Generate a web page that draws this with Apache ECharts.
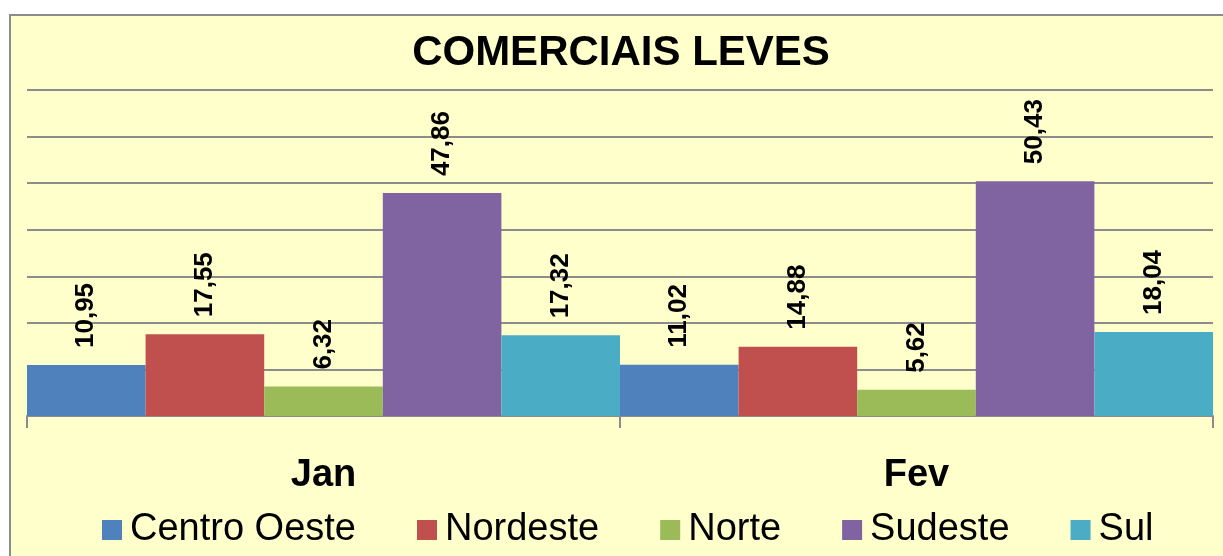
<!DOCTYPE html>
<html>
<head>
<meta charset="utf-8">
<script src="https://cdn.jsdelivr.net/npm/echarts@6/dist/echarts.min.js"></script>
<style>
html, body { margin: 0; padding: 0; background: #fff; }
#container { width: 1223px; height: 556px; }
</style>
</head>
<body>
<div id="container"></div>
<script>
let dom = document.getElementById("container");
let myChart = echarts.init(dom);

let categories = ['Jan', 'Fev'];
let regions = ['Centro Oeste', 'Nordeste', 'Norte', 'Sudeste', 'Sul'];
let centroOeste = [10.95, 11.02];
let nordeste = [17.55, 14.88];
let norte = [6.32, 5.62];
let sudeste = [47.86, 50.43];
let sul = [17.32, 18.04];
let colors = ['#4F81BD', '#C0504D', '#9BBB59', '#8064A2', '#4BACC6'];

let seriesData = [centroOeste, nordeste, norte, sudeste, sul];
let font = 'Liberation Sans, Arial, sans-serif';

let series = regions.map((name, i) => ({
    name: name,
    type: 'bar',
    data: seriesData[i],
    barGap: '0%',
    barCategoryGap: '0%',
    itemStyle: { color: colors[i] },
    label: {
        show: true,
        position: 'top',
        rotate: 90,
        align: 'left',
        verticalAlign: 'middle',
        distance: 17,
        fontSize: 26,
        fontWeight: 'bold',
        fontFamily: font,
        color: '#000',
        formatter: function (p) {
            return p.value.toFixed(2).replace('.', ',');
        }
    }
}));

let option = {
    backgroundColor: '#fff',
    animation: false,
    graphic: [{
        type: 'rect',
        left: 9,
        top: 14,
        z: -10,
        shape: { width: 1240, height: 560 },
        style: { fill: '#FFFFCC', stroke: '#8C8C8C', lineWidth: 2 }
    }],
    title: {
        text: 'COMERCIAIS LEVES',
        left: 616,
        textAlign: 'center',
        top: 27,
        textStyle: { fontSize: 42, fontWeight: 'bold', fontFamily: font, color: '#000' }
    },
    legend: {
        data: regions,
        bottom: 2,
        left: 97,
        itemWidth: 20,
        itemHeight: 20,
        itemGap: 61,
        icon: 'rect',
        textStyle: { fontSize: 38, fontFamily: font, color: '#000', padding: [0, 0, 0, 3] }
    },
    grid: { left: 27, right: 10, top: 90, bottom: 140, containLabel: false },
    xAxis: {
        type: 'category',
        data: categories,
        axisLine: { lineStyle: { color: '#8C8C8C', width: 2 } },
        axisTick: { show: true, length: 12, lineStyle: { color: '#8C8C8C', width: 2 } },
        axisLabel: { fontSize: 38, fontWeight: 'bold', fontFamily: font, color: '#000', margin: 41 }
    },
    yAxis: {
        type: 'value',
        min: 0,
        max: 70,
        interval: 10,
        axisLabel: { show: false },
        axisLine: { show: false },
        axisTick: { show: false },
        splitLine: { lineStyle: { color: '#8C8C8C', width: 2 } }
    },
    series: series
};
myChart.setOption(option, true);
</script>
</body>
</html>
